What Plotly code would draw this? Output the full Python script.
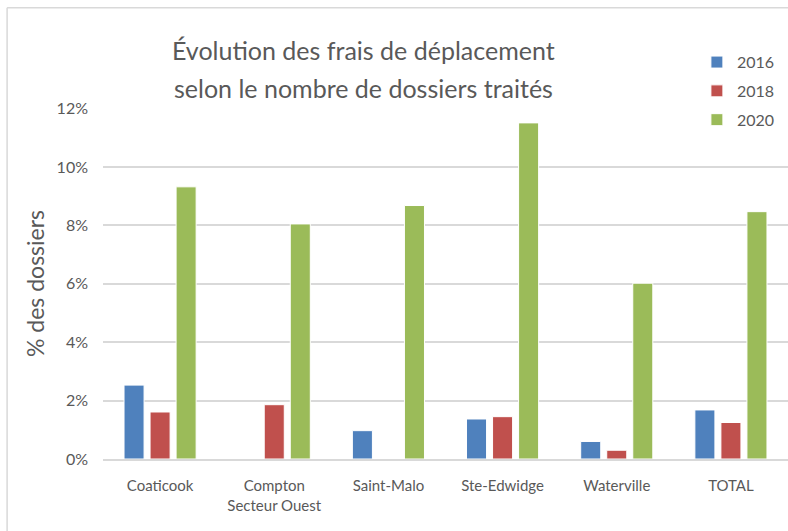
import plotly.graph_objects as go

# ---------------- DATA ----------------
categories = ["Coaticook", "Compton<br>Secteur Ouest", "Saint-Malo",
              "Ste-Edwidge", "Waterville", "TOTAL"]
years = ["2016", "2018", "2020"]
values_2016 = [0.0253, None, 0.0097, 0.0137, 0.0060, 0.0168]
values_2018 = [0.0161, 0.0186, None, 0.0145, 0.0030, 0.0125]
values_2020 = [0.0932, 0.0805, 0.0868, 0.1151, 0.0602, 0.0847]
tick_vals = [0, 0.02, 0.04, 0.06, 0.08, 0.10, 0.12]
title_lines = ["Évolution des frais de déplacement",
               "selon le nombre de dossiers traités"]

colors = ["#4F81BD", "#C0504D", "#9BBB59"]
font_family = "Lato, 'Open Sans', sans-serif"
grey = "#595959"

fig = go.Figure()

for year, vals, col in zip(years, [values_2016, values_2018, values_2020], colors):
    fig.add_trace(go.Bar(
        x=categories,
        y=vals,
        name=year,
        legendgroup=year,
        marker=dict(color=col, line=dict(color="white", width=1)),
    ))

# title, two lines placed separately to get the wider line spacing
for line, ypos in zip(title_lines, [1.165, 1.057]):
    fig.add_annotation(text=line, xref="paper", yref="paper",
                       x=0.380, y=ypos, xanchor="center", yanchor="middle",
                       showarrow=False,
                       font=dict(family=font_family, size=25, color=grey))

# light frame of the chart area (only top and left visible)
fig.add_shape(type="line", xref="paper", yref="paper",
              x0=-0.140, x1=1.2, y0=1.2857, y1=1.2857,
              line=dict(color="#d9d9d9", width=1.5))
fig.add_shape(type="line", xref="paper", yref="paper",
              x0=-0.140, x1=-0.140, y0=-0.5, y1=1.2857,
              line=dict(color="#d9d9d9", width=1.5))

fig.update_layout(
    width=788,
    height=531,
    barmode="group",
    bargap=0.316,
    bargroupgap=0.23,
    plot_bgcolor="white",
    paper_bgcolor="white",
    margin=dict(l=103, r=0, t=108, b=72),
    font=dict(family=font_family, size=16, color=grey),
    legend=dict(
        x=0.867, xanchor="left",
        y=1.179, yanchor="top",
        bgcolor="white",
        tracegroupgap=5,
        font=dict(size=16, color=grey),
    ),
    xaxis=dict(
        showline=True, linecolor="#d9d9d9", linewidth=2,
        ticks="", tickfont=dict(size=15, color=grey),
        ticklabelstandoff=12,
    ),
    yaxis=dict(
        title=dict(text="% des dossiers", font=dict(size=23, color=grey), standoff=5),
        range=[0, 0.1202],
        tickvals=tick_vals,
        tickformat=".0%",
        showgrid=True, gridcolor="#d9d9d9", gridwidth=1.5,
        zeroline=False,
        tickfont=dict(size=16, color=grey),
        ticklabelstandoff=14,
    ),
)

fig.write_html("out.html", config={"displayModeBar": False},
               post_script="document.body.style.margin='0';")
